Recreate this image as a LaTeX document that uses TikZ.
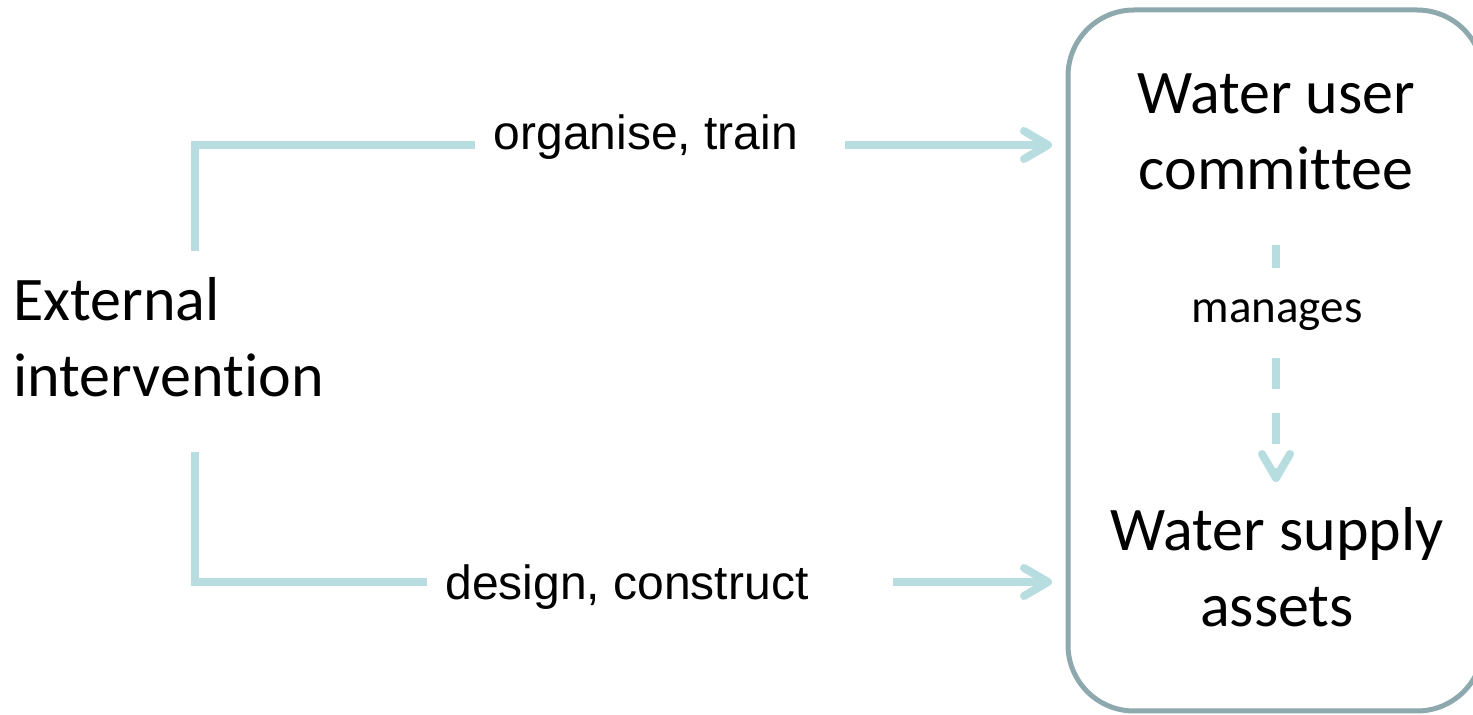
\documentclass[tikz,border=0pt]{standalone}
\usepackage{fontspec}
\setmainfont{Carlito}[Ligatures={NoCommon}]
\newfontfamily\arialf{Liberation Sans}
\usetikzlibrary{arrows.meta}
\definecolor{linec}{HTML}{B7DDE0}
\definecolor{borderc}{HTML}{8DA9AD}
\newcommand\nolig{\kern0pt{}}
\tikzset{
  bigtext/.style={font=\fontsize{31pt}{38pt}\selectfont, inner sep=0pt, align=center},
  lbltext/.style={font=\arialf\fontsize{24pt}{29pt}\selectfont, inner sep=0pt, anchor=base},
  mgtext/.style={font=\fontsize{23.5pt}{28pt}\selectfont, inner sep=0pt, anchor=base},
  grpbox/.style={draw=borderc, line width=2.5pt, rounded corners=33pt},
  conn/.style={draw=linec, line width=4pt},
  tipst/.style={-{Straight Barb[length=12pt,width=14pt,line cap=round,line join=round]}},
  dashconn/.style={conn, dash pattern=on 15.5pt off 12pt},
}
\begin{document}
\begin{tikzpicture}[x=0.5pt, y=-0.5pt]
\useasboundingbox (0,0) rectangle (1473,715);
\clip (0,0) rectangle (1473,715);
\draw[grpbox] (1068,10) rectangle (1483,711);
\node[bigtext, align=left, anchor=west] (ext) at (13,337) {External\\interven\nolig tion};
\node[bigtext] (wuc) at (1276,131.5) {Water user\\commit\nolig tee};
\node[bigtext] (wsa) at (1277,567.5) {Water supply\\assets};
\node[lbltext] (lab1) at (646,150) {organise, train};
\node[lbltext] (lab2) at (627,600) {design, construct};
\node[mgtext] (mg) at (1277,323) {manages};
% coordinates for connector ends
\coordinate (c1) at (195,251);
\coordinate (t1) at (475,145);
\coordinate (t2) at (845,145);
\coordinate (a1) at (1052,145);
\coordinate (c2) at (195,452);
\coordinate (t3) at (427,582);
\coordinate (t4) at (893,582);
\coordinate (a2) at (1052,582);
\coordinate (d1) at (1276,245);
\coordinate (d2) at (1276,268);
\coordinate (d3) at (1276,358);
\coordinate (d4) at (1276,482);
\draw[conn] (c1) |- (t1);
\draw[conn, tipst] (t2) -- (a1);
\draw[conn] (c2) |- (t3);
\draw[conn, tipst] (t4) -- (a2);
\draw[conn] (d1) -- (d2);
\draw[dashconn, tipst] (d3) -- (d4);
\end{tikzpicture}
\end{document}
